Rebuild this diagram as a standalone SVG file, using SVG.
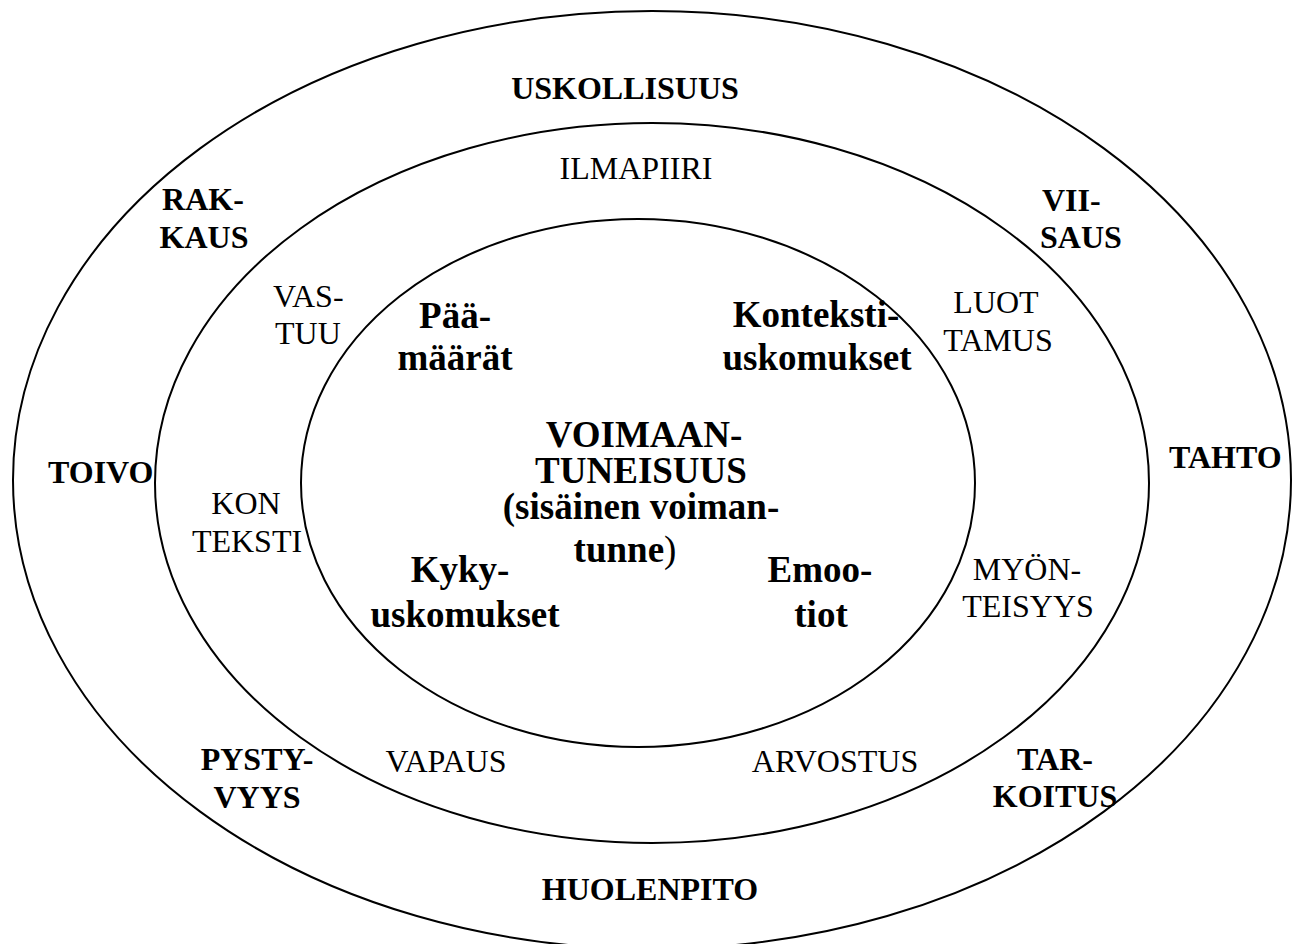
<svg xmlns="http://www.w3.org/2000/svg" width="1296" height="944" viewBox="0 0 1296 944">
<style>
.ring{fill:#fff;stroke:#000;stroke-width:2}
text{font-family:"Liberation Serif","Times New Roman",serif;fill:#000}
.ob{font-size:32px;font-weight:bold}
.mr{font-size:32px;font-weight:normal}
.ib{font-size:37px;font-weight:bold}
.c{text-anchor:middle}
</style>
<rect width="1296" height="944" fill="#fff"/>
<g id="outer-ring">
<ellipse class="ring" cx="652" cy="480" rx="639" ry="469"/>
</g>
<g id="middle-ring">
<ellipse class="ring" cx="652" cy="483" rx="497" ry="360"/>
</g>
<g id="inner-ring">
<ellipse class="ring" cx="638" cy="483" rx="337" ry="264"/>
</g>
<g id="outer-labels">
<g id="uskollisuus"><text class="ob c" x="625" y="99">USKOLLISUUS</text></g>
<g id="rakkaus"><text class="ob c" x="203" y="210">RAK-</text><text class="ob c" x="204" y="248">KAUS</text></g>
<g id="viisaus"><text class="ob" x="1042" y="211">VII-</text><text class="ob" x="1040" y="248">SAUS</text></g>
<g id="toivo"><text class="ob" x="48" y="483">TOIVO</text></g>
<g id="tahto"><text class="ob" x="1169" y="468">TAHTO</text></g>
<g id="pystyvyys"><text class="ob c" x="257" y="770">PYSTY-</text><text class="ob c" x="257" y="808">VYYS</text></g>
<g id="tarkoitus"><text class="ob c" x="1055" y="770">TAR-</text><text class="ob c" x="1055" y="807">KOITUS</text></g>
<g id="huolenpito"><text class="ob c" x="650" y="900">HUOLENPITO</text></g>
</g>
<g id="middle-labels">
<g id="ilmapiiri"><text class="mr c" x="636" y="179">ILMAPIIRI</text></g>
<g id="vastuu"><text class="mr" x="273" y="307">VAS-</text><text class="mr" x="275" y="344">TUU</text></g>
<g id="luottamus"><text class="mr c" x="996" y="313">LUOT</text><text class="mr c" x="998" y="351">TAMUS</text></g>
<g id="konteksti"><text class="mr c" x="246" y="514">KON</text><text class="mr c" x="247" y="552">TEKSTI</text></g>
<g id="myonteisyys"><text class="mr c" x="1027" y="580">MYÖN-</text><text class="mr c" x="1028" y="617">TEISYYS</text></g>
<g id="vapaus"><text class="mr c" x="446" y="772">VAPAUS</text></g>
<g id="arvostus"><text class="mr c" x="835" y="772">ARVOSTUS</text></g>
</g>
<g id="inner-labels">
<g id="paamaarat"><text class="ib c" x="455" y="328">Pää-</text><text class="ib c" x="455" y="370">määrät</text></g>
<g id="kontekstiuskomukset"><text class="ib c" x="816" y="327">Konteksti-</text><text class="ib c" x="817" y="370">uskomukset</text></g>
<g id="voimaantuneisuus"><text class="ib c" x="644" y="447">VOIMAAN-</text><text class="ib c" x="641" y="483">TUNEISUUS</text><text class="ib c" x="641" y="519">(sisäinen voiman-</text><text class="ib c" x="625" y="562">tunne<tspan font-weight="normal">)</tspan></text></g>
<g id="kykyuskomukset"><text class="ib c" x="460" y="582">Kyky-</text><text class="ib c" x="465" y="627">uskomukset</text></g>
<g id="emootiot"><text class="ib c" x="820" y="582">Emoo-</text><text class="ib c" x="821" y="627">tiot</text></g>
</g>
</svg>
